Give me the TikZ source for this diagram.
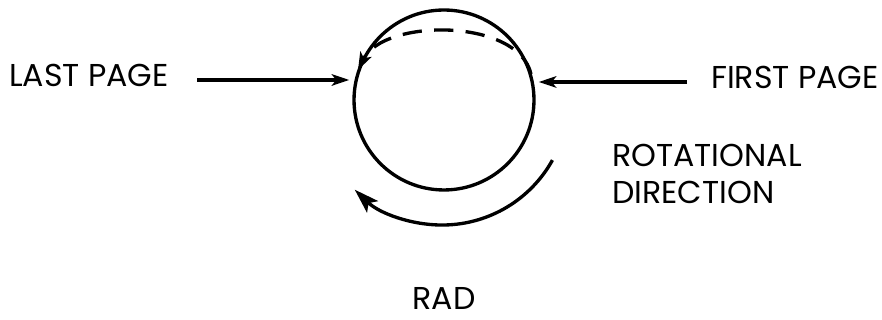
\documentclass[tikz,border=0pt]{standalone}
\usepackage{fontspec}
\setmainfont{Poppins}
\usepackage{tikz}
\usetikzlibrary{arrows.meta,positioning,calc}

\begin{document}
\begin{tikzpicture}[x=0.02cm,y=0.02cm,
        >={Stealth[length=10pt,width=6.5pt,inset=2.5pt]},
        lbl/.style={font=\fontsize{18}{21}\selectfont,inner sep=0pt},
        thk/.style={line width=1.9pt}]
            \useasboundingbox (0,0) rectangle (882,320);

            % Drum
            \node[draw,circle,thk,minimum size=3.6cm,inner sep=0pt] (drum) at (444,220) {};

            % Page turning over the top
            \coordinate (topr) at (531,246);
            \coordinate (topl) at (358,250);
            \draw[thk,dash pattern=on 11pt off 7pt,-{Stealth[length=10pt,width=7pt,inset=2.5pt]}] (topr) .. controls (518,302) and (384,302) .. (topl);

            % Labels
            \node[lbl] (last) at (89,245) {LAST PAGE};
            \node[lbl] (first) at (795,243) {FIRST PAGE};
            \node[lbl,anchor=west,align=left] (rot) at (612,146) {ROTATIONAL\\DIRECTION};
            \node[lbl,anchor=base] (rad) at (444,10) {RAD};

            % Feed arrows
            \coordinate (la) at (197,240);
            \coordinate (fa) at (687,238);
            \draw[thk,->] (la) -- ($(la -| drum.west)+(-3,0)$);
            \draw[thk,->] (fa) -- ($(fa -| drum.east)+(3,0)$);

            % Rotation
            \draw[thk,-{Stealth[length=14pt,width=9pt,inset=3pt]}] (drum.center) ++(-29:124) arc[start angle=-29,end angle=-134,radius=126];
        \end{tikzpicture}
\end{document}
